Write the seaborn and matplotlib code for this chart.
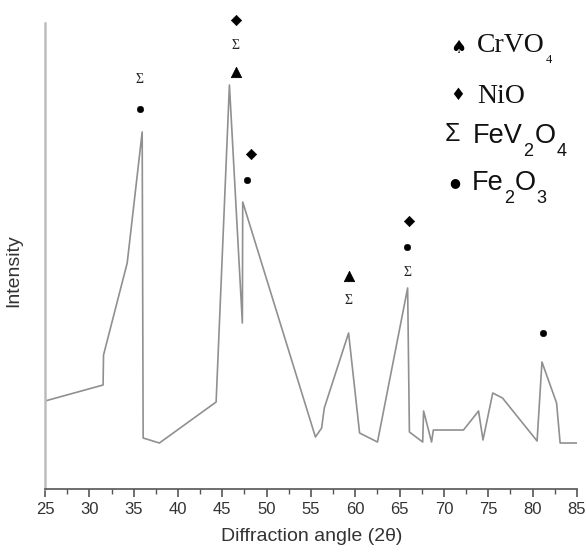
import matplotlib
matplotlib.use("Agg")
import matplotlib.pyplot as plt
import seaborn as sns
import pandas as pd

angle = [25.0, 31.55, 31.6, 34.27, 35.96, 36.07, 37.9, 44.3, 45.8, 47.26, 47.3,
         55.5, 56.2, 56.5, 59.24, 60.48, 62.5, 65.9, 66.1, 67.6, 67.7, 68.6, 68.8,
         72.2, 73.9, 74.4, 75.5, 76.6, 80.5, 81.05, 82.7, 83.1, 85.0]
intensity = [88, 104, 134, 226, 357, 51, 46, 87, 404, 166, 287,
             52, 61, 81, 156, 56, 47, 201, 57, 47, 78, 47, 59,
             59, 78, 49, 96, 91, 48, 127, 86, 46, 46]

# peak phase markers
crvo4_x = [46.5, 59.24]
crvo4_y = [417, 213]
nio_x = [46.5, 48.2, 66.1]
nio_y = [469, 335, 268]
fev2o4_x = [35.7, 46.5, 59.24, 65.9]
fev2o4_y = [409, 443, 188, 216]
fe2o3_x = [35.7, 47.8, 65.8, 81.2]
fe2o3_y = [380, 309, 242, 156]

xticks = [25, 30, 35, 40, 45, 50, 55, 60, 65, 70, 75, 80, 85]

SERIF = ["Liberation Serif", "DejaVu Serif"]
SANS = ["Liberation Sans", "DejaVu Sans"]

sns.set_theme(style="white")
plt.rcParams['font.family'] = SANS

fig = plt.figure(figsize=(5.86, 5.55), dpi=100)
ax = fig.add_axes([0.0768, 0.1189, 0.9078, 0.8397])

df = pd.DataFrame({"angle": angle, "intensity": intensity})
sns.lineplot(data=df, x="angle", y="intensity", sort=False, estimator=None,
             color="#909090", linewidth=1.2, ax=ax)

sns.scatterplot(x=crvo4_x, y=crvo4_y, marker="^", s=55, color="black",
                edgecolor="black", ax=ax, clip_on=False, zorder=5)
sns.scatterplot(x=nio_x, y=nio_y, marker="D", s=28, color="black",
                edgecolor="black", ax=ax, clip_on=False, zorder=5)
sns.scatterplot(x=fe2o3_x, y=fe2o3_y, marker="o", s=22, color="black",
                edgecolor="black", ax=ax, clip_on=False, zorder=5)
for xv, yv in zip(fev2o4_x, fev2o4_y):
    ax.text(xv, yv, "Σ", ha="center", va="center", fontsize=10,
            family=SERIF, color="#222222", clip_on=False)


def chem(x, y, parts, size, subsize, family, sub_drop=-1.0):
    base = ax.text(x, y, parts[0][0], va="baseline", ha="left", fontsize=size,
                   family=family, color="#111111")
    prev = base
    for s, sub in parts[1:]:
        if sub:
            t = ax.annotate(s, xy=(1, 0), xycoords=(prev, base),
                            xytext=(0.6, sub_drop), textcoords="offset points",
                            va="center", ha="left", fontsize=subsize,
                            family=family, color="#111111")
        else:
            t = ax.annotate(s, xy=(1, 0), xycoords=(prev, base),
                            xytext=(0.6, 0), textcoords="offset points",
                            va="bottom", ha="left", fontsize=size,
                            family=family, color="#111111")
        prev = t


# legend drawn as text
ax.text(71.55, 441, "♠", ha="center", va="center", fontsize=13, color="black",
        family=["DejaVu Sans"])
chem(73.7, 437, [("CrVO", False), ("4", True)], 20, 9, SERIF, sub_drop=-1.5)
ax.text(71.55, 394, "♦", ha="center", va="center", fontsize=12, color="black",
        family=["DejaVu Sans"])
chem(73.7, 386, [("NiO", False)], 20, 9, SERIF)
ax.text(71.0, 355, "Σ", ha="center", va="center", fontsize=18,
        family=SANS, color="#111111")
chem(73.25, 346, [("FeV", False), ("2", True), ("O", False), ("4", True)], 19.5, 13, SANS,
     sub_drop=-1.5)
ax.text(71.2, 306, "●", ha="center", va="center", fontsize=9, color="black",
        family=["DejaVu Sans"])
chem(73.1, 299, [("Fe", False), ("2", True), ("O", False), ("3", True)], 19.5, 13, SANS,
     sub_drop=-1.5)

ax.set_xlim(25, 85)
ax.set_ylim(0, 466)
ax.set_xticks(xticks)
ax.set_xticklabels([str(t) for t in xticks])
ax.set_xticks([t + 2.5 for t in xticks[:-1]], minor=True)
ax.set_yticks([])

for s in ["top", "right"]:
    ax.spines[s].set_visible(False)
ax.spines["left"].set_color("#bdbdbd")
ax.spines["left"].set_linewidth(1.8)
ax.spines["bottom"].set_color("#555555")
ax.spines["bottom"].set_linewidth(1.2)

ax.tick_params(axis="x", which="major", direction="out", length=6, width=1.2,
               color="#555555", labelsize=12, labelcolor="#333333", bottom=True, pad=3)
ax.tick_params(axis="x", which="minor", direction="out", length=3.5, width=1.0,
               color="#555555", bottom=True)

ax.set_xlabel("Diffraction angle (2θ)", fontsize=14, color="#333333")
ax.xaxis.set_label_coords(0.501, -0.083)
ax.set_ylabel("Intensity", fontsize=14, color="#333333")
ax.yaxis.set_label_coords(-0.043, 0.468)

fig.savefig("out.png", dpi=100)
